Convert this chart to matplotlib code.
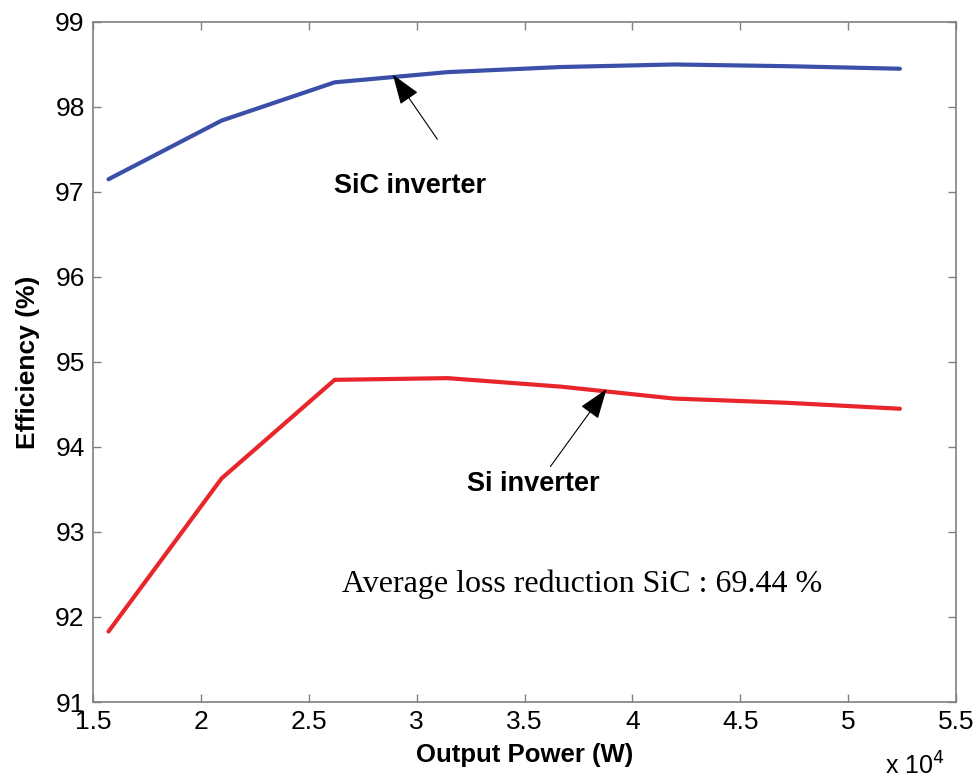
import matplotlib
matplotlib.use("Agg")
import matplotlib.pyplot as plt
from matplotlib.ticker import FuncFormatter, MultipleLocator

# output power (W) and efficiency (%)
p_out = [15720, 20960, 26200, 31440, 36680, 41920, 47160, 52400]
eff_sic = [97.15, 97.84, 98.29, 98.41, 98.47, 98.50, 98.48, 98.45]
eff_si = [91.83, 93.63, 94.79, 94.81, 94.71, 94.57, 94.52, 94.45]

plt.rcParams['font.family'] = ['Liberation Sans', 'DejaVu Sans']

fig = plt.figure(figsize=(9.78, 7.82), dpi=100)
ax = fig.add_axes([0.0951, 0.1023, 0.8824, 0.8696])

ax.plot(p_out, eff_sic, color='#3a50a8', lw=3.0, solid_capstyle='round')
ax.plot(p_out, eff_si, color='#e8252a', lw=3.0, solid_capstyle='round')

ax.set_xlim(15000, 55000)
ax.set_ylim(91, 99)
ax.xaxis.set_major_locator(MultipleLocator(5000))
ax.yaxis.set_major_locator(MultipleLocator(1))
ax.xaxis.set_major_formatter(FuncFormatter(lambda v, p: '%g' % (v / 1e4)))

for s in ax.spines.values():
    s.set_color('#808080')
    s.set_linewidth(1.2)
ax.tick_params(direction='in', length=6, width=1, color='#808080',
               top=True, right=True, labelsize=19, pad=6)

ax.set_xlabel('Output Power (W)', fontsize=18.5, fontweight='bold', labelpad=6)
ax.set_ylabel('Efficiency (%)', fontsize=19, fontweight='bold', labelpad=11)
ax.text(0.987, -0.094, r'x 10$^{4}$', transform=ax.transAxes, fontsize=18,
        ha='right', va='center')

arrow = dict(arrowstyle='-|>,head_length=0.9,head_width=0.32', color='black',
             lw=0.8, mutation_scale=21, shrinkA=0, shrinkB=0)
ax.annotate('', xy=(28900, 98.38), xytext=(30960, 97.62), arrowprops=arrow)
ax.annotate('', xy=(38800, 94.68), xytext=(36200, 93.77), arrowprops=arrow)

ax.text(29700, 97.07, 'SiC inverter', fontsize=19.5, fontweight='bold',
        ha='center', va='center')
ax.text(35400, 93.57, 'Si inverter', fontsize=19.5, fontweight='bold',
        ha='center', va='center')
ax.text(26560, 92.39, 'Average loss reduction SiC : 69.44 %',
        family=['Liberation Serif', 'DejaVu Serif'], fontsize=23,
        ha='left', va='center')

fig.savefig('out.png', dpi=100)
